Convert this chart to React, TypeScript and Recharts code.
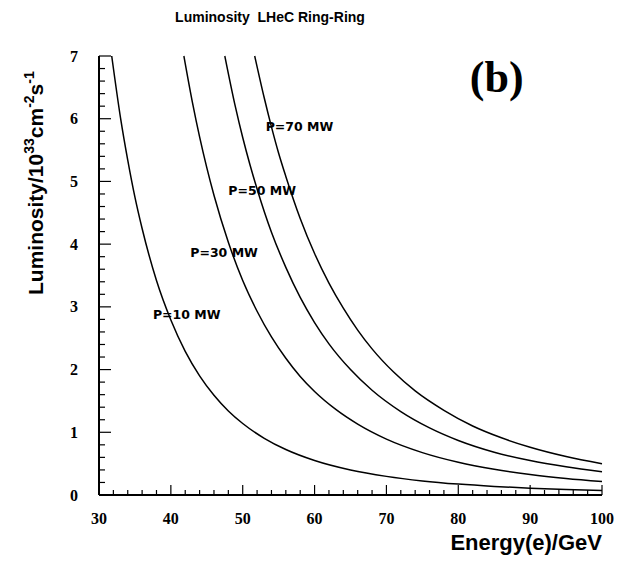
import { LineChart, Line, XAxis, YAxis, ReferenceDot } from "recharts"

// luminosity curves (E in GeV, L in 10^33 cm^-2 s^-1)
const p10E = [31.77, 33, 34, 35, 36, 38, 40, 42, 44, 46, 48, 50, 53, 56, 60, 65, 70, 75, 80, 85, 90, 95, 100]
const p10L = [7.0, 6.01, 5.34, 4.75, 4.25, 3.42, 2.79, 2.29, 1.9, 1.59, 1.34, 1.14, 0.904, 0.725, 0.55, 0.399, 0.297, 0.225, 0.174, 0.137, 0.109, 0.088, 0.071]
const p30E = [41.81, 43, 44, 45, 46, 48, 50, 52, 54, 56, 58, 60, 63, 66, 70, 75, 80, 85, 90, 95, 100]
const p30L = [7.0, 6.26, 5.71, 5.22, 4.78, 4.03, 3.42, 2.93, 2.52, 2.18, 1.89, 1.65, 1.36, 1.13, 0.891, 0.676, 0.522, 0.41, 0.326, 0.263, 0.214]
const p50E = [47.51, 49, 50, 51, 52, 54, 56, 58, 60, 62, 65, 68, 72, 76, 80, 85, 90, 95, 100]
const p50L = [7.0, 6.18, 5.7, 5.27, 4.88, 4.19, 3.63, 3.15, 2.75, 2.41, 2.0, 1.67, 1.33, 1.07, 0.87, 0.683, 0.55, 0.45, 0.37]
const p70E = [51.67, 53, 54, 55, 56, 58, 60, 62, 64, 66, 68, 71, 74, 78, 82, 86, 90, 95, 100]
const p70L = [7.0, 6.33, 5.87, 5.45, 5.08, 4.41, 3.85, 3.38, 2.98, 2.63, 2.33, 1.96, 1.66, 1.35, 1.1, 0.912, 0.761, 0.613, 0.497]

const curveLabels = ["P=10 MW", "P=30 MW", "P=50 MW", "P=70 MW"]
const labelE = [37.5, 42.7, 48.0, 53.2]
const labelL = [2.8, 3.8, 4.79, 5.8]

const xTicks = [30, 32, 34, 36, 38, 40, 42, 44, 46, 48, 50, 52, 54, 56, 58, 60, 62, 64, 66, 68, 70, 72, 74, 76, 78, 80, 82, 84, 86, 88, 90, 92, 94, 96, 98, 100]
const yTicks = [0, 0.2, 0.4, 0.6, 0.8, 1, 1.2, 1.4, 1.6, 1.8, 2, 2.2, 2.4, 2.6, 2.8, 3, 3.2, 3.4, 3.6, 3.8, 4, 4.2, 4.4, 4.6, 4.8, 5, 5.2, 5.4, 5.6, 5.8, 6, 6.2, 6.4, 6.6, 6.8, 7]
const xMajor = [30, 40, 50, 60, 70, 80, 90, 100]
const yMajor = [0, 1, 2, 3, 4, 5, 6, 7]

const zip = (es: number[], ls: number[]) => es.map((e, i) => ({ e, l: ls[i] }))
const curves = [zip(p10E, p10L), zip(p30E, p30L), zip(p50E, p50L), zip(p70E, p70L)]

const isMajorX = (v: number) => xMajor.includes(v)
const isMajorY = (v: number) => yMajor.includes(v)

const serif = "'Liberation Serif', 'Times New Roman', serif"
const sans = "'Liberation Sans', Arial, sans-serif"

function XTick(props: any) {
  const { x, y, payload } = props
  if (!isMajorX(payload.value)) return <g />
  return <text x={x} y={y + 29} textAnchor="middle" fontFamily={serif} fontWeight="bold" fontSize={16} fill="#000">{payload.value}</text>
}

function YTick(props: any) {
  const { x, y, payload } = props
  if (!isMajorY(payload.value)) return <g />
  return <text x={x - 21} y={y + 5.5} textAnchor="end" fontFamily={serif} fontWeight="bold" fontSize={16} fill="#000">{payload.value}</text>
}

// inward tick marks: major 10px / minor 5px on x, 12px / 6px on y
const xMark = (len: number) => (p: any) => <path d={`M${p.cx},${p.cy}V${p.cy - len}`} stroke="#000" strokeWidth={1.2} fill="none" />
const yMark = (len: number) => (p: any) => <path d={`M${p.cx},${p.cy}H${p.cx + len}`} stroke="#000" strokeWidth={1.2} fill="none" />

const frame = { stroke: "#000", strokeWidth: 2 }
const sup = { fontSize: 14, verticalAlign: 9, lineHeight: 0 }

export default function App() {
  return (
    <div style={{ position: "absolute", left: 0, top: 0, width: 617, height: 561, background: "#fff" }}>
      <LineChart width={617} height={561} margin={{ top: 56, right: 15, bottom: 36, left: 39 }}>
        <XAxis dataKey="e" type="number" domain={[30, 100]} ticks={xTicks} interval={0} height={30}
          tickSize={0} tickMargin={0} tickLine={false} tick={XTick} axisLine={frame} />
        <YAxis type="number" domain={[0, 7]} ticks={yTicks} interval={0} width={60}
          tickSize={0} tickMargin={0} tickLine={false} tick={YTick} axisLine={frame} />
        <XAxis xAxisId="top" orientation="top" type="number" domain={[30, 100]} height={0} tick={false} tickLine={false} axisLine={frame} />
        <YAxis yAxisId="right" orientation="right" type="number" domain={[0, 7]} width={0} tick={false} tickLine={false} axisLine={frame} />
        {curves.map((d, i) => (
          <Line key={"c" + i} data={d} dataKey="l" type="monotone" stroke="#000" strokeWidth={1.5} dot={false} isAnimationActive={false} />
        ))}
        {xTicks.map(v => (
          <ReferenceDot key={"xm" + v} x={v} y={0} r={1} ifOverflow="visible" shape={xMark(isMajorX(v) ? 10 : 5)} />
        ))}
        {yTicks.map(v => (
          <ReferenceDot key={"ym" + v} x={30} y={v} r={1} ifOverflow="visible" shape={yMark(isMajorY(v) ? 12 : 6)} />
        ))}
        {curveLabels.map((t, i) => (
          <ReferenceDot key={t} x={labelE[i]} y={labelL[i]} r={1}
            shape={(p: any) => <text x={p.cx} y={p.cy} fontFamily="'DejaVu Sans', sans-serif" fontWeight="bold" fontSize={12.5} fill="#000">{t}</text>} />
        ))}
        <ReferenceDot x={81.6} y={6.43} r={1}
          shape={(p: any) => <text x={p.cx} y={p.cy} fontFamily={serif} fontWeight="bold" fontSize={44} fill="#000">(b)</text>} />
      </LineChart>
      <div style={{ position: "absolute", left: 0, top: 9, width: 540, textAlign: "center", fontFamily: sans, fontWeight: "bold", fontSize: 14, lineHeight: "16px", whiteSpace: "pre", pointerEvents: "none" }}>
        Luminosity  LHeC Ring-Ring
      </div>
      <div style={{ position: "absolute", left: 0, top: 0, transformOrigin: "0 0", transform: "translate(25px, 295px) rotate(-90deg)", fontFamily: sans, fontWeight: "bold", fontSize: 21, lineHeight: "21px", whiteSpace: "nowrap", pointerEvents: "none" }}>
        Luminosity/10<span style={sup}>33</span>cm<span style={sup}>-2</span>s<span style={sup}>-1</span>
      </div>
      <div style={{ position: "absolute", right: 15, top: 532, fontFamily: sans, fontWeight: "bold", fontSize: 22, lineHeight: "22px", whiteSpace: "nowrap", pointerEvents: "none" }}>
        Energy(e)/GeV
      </div>
    </div>
  )
}
